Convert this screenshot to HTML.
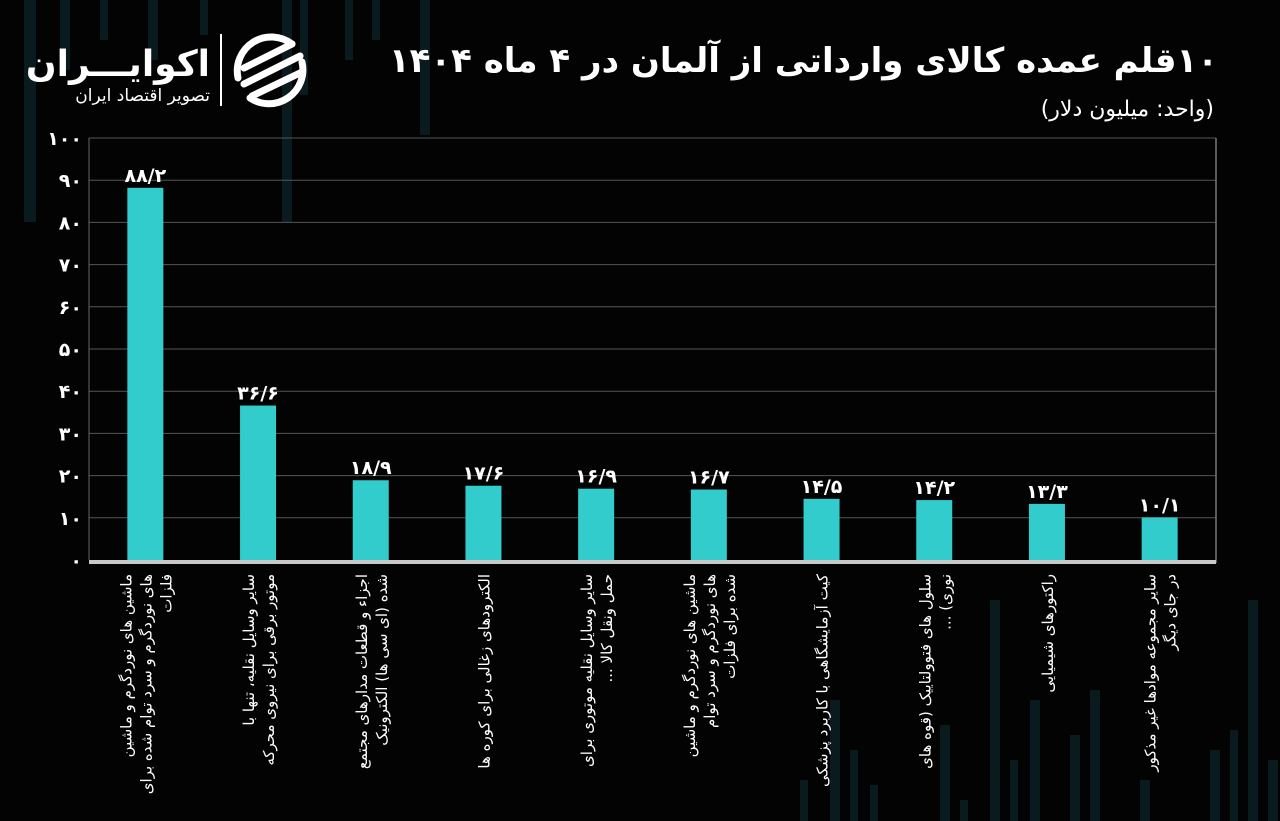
<!DOCTYPE html>
<html><head><meta charset="utf-8">
<style>
html,body{margin:0;padding:0;background:#030303;}
svg{display:block;}
</style></head>
<body>
<svg id="chart" width="1280" height="821" viewBox="0 0 1280 821" xmlns="http://www.w3.org/2000/svg" font-family="'DejaVu Sans','Liberation Sans',sans-serif">
<rect width="1280" height="821" fill="#030303"/>
<g id="deco" fill="#0c2026" opacity="0.85">
  <rect x="24" y="0" width="12" height="222"/>
  <rect x="60" y="0" width="10" height="70"/>
  <rect x="100" y="0" width="8" height="40"/>
  <rect x="148" y="0" width="10" height="60"/>
  <rect x="200" y="0" width="8" height="35"/>
  <rect x="282" y="0" width="10" height="222"/>
  <rect x="300" y="0" width="8" height="95"/>
  <rect x="345" y="0" width="8" height="60"/>
  <rect x="372" y="0" width="8" height="40"/>
  <rect x="420" y="0" width="10" height="135"/>
  <rect x="990" y="600" width="10" height="221"/>
  <rect x="1010" y="760" width="8" height="61"/>
  <rect x="1030" y="700" width="10" height="121"/>
  <rect x="1070" y="735" width="10" height="86"/>
  <rect x="1090" y="690" width="10" height="131"/>
  <rect x="1140" y="780" width="10" height="41"/>
  <rect x="1210" y="750" width="10" height="71"/>
  <rect x="1230" y="730" width="8" height="91"/>
  <rect x="1248" y="600" width="10" height="221"/>
  <rect x="1268" y="760" width="10" height="61"/>
  <rect x="800" y="780" width="8" height="41"/>
  <rect x="830" y="700" width="10" height="121"/>
  <rect x="850" y="750" width="8" height="71"/>
  <rect x="870" y="785" width="8" height="36"/>
  <rect x="940" y="725" width="10" height="96"/>
  <rect x="960" y="800" width="8" height="21"/>
</g>

<text x="1218" y="72" text-anchor="start" fill="#fff" font-size="34" font-weight="bold" direction="rtl">۱۰قلم عمده کالای وارداتی از آلمان در ۴ ماه ۱۴۰۴</text>
<text x="1214" y="116" text-anchor="start" fill="#fff" font-size="22" direction="rtl">(واحد: میلیون دلار)</text>

<g>
  <text x="210" y="76" text-anchor="start" fill="#fff" font-size="36" font-weight="bold" direction="rtl">اکوایـــران</text>
  <text x="210" y="101" text-anchor="start" fill="#fff" font-size="17" direction="rtl">تصویر اقتصاد ایران</text>
  <rect x="220" y="34" width="2" height="72" fill="#fff"/>
  <g fill="none" stroke="#fff" stroke-width="7" stroke-linecap="round">
    <path d="M292 44 A34 34 0 0 0 238 78"/>
    <path d="M250 98 A34 34 0 0 0 302 62"/>
    <path d="M244 68 L292 44"/>
    <path d="M244 84 L300 56"/>
    <path d="M252 96 L302 72"/>
  </g>
</g>

<g id="plot"></g>
</svg>
<script>
const categories = [
 ["ماشین های نوردگرم و ماشین","های نوردگرم و سرد توام شده برای","فلزات"],
 ["سایر وسایل نقلیه، تنها با","موتور برقی برای نیروی محرکه"],
 ["اجزاء و قطعات مدارهای مجتمع","شده (ای سی ها) الکترونیک"],
 ["الکترودهای زغالی برای کوره ها"],
 ["سایر وسایل نقلیه موتوری برای","حمل ونقل کالا ..."],
 ["ماشین های نوردگرم و ماشین","های نوردگرم و سرد توام","شده برای فلزات"],
 ["کیت آزمایشگاهی با کاربرد پزشکی"],
 ["سلول های فتوولتاییک (قوه های","نوری) ..."],
 ["راکتورهای شیمیایی"],
 ["سایر مجموعه موادها غیر مذکور","در جای دیگر"]
];
const values = [88.2, 36.6, 18.9, 17.6, 16.9, 16.7, 14.5, 14.2, 13.3, 10.1];
const valueLabels = ["۸۸/۲","۳۶/۶","۱۸/۹","۱۷/۶","۱۶/۹","۱۶/۷","۱۴/۵","۱۴/۲","۱۳/۳","۱۰/۱"];
const yTicks = [0,10,20,30,40,50,60,70,80,90,100];
const yTickLabels = ["۰","۱۰","۲۰","۳۰","۴۰","۵۰","۶۰","۷۰","۸۰","۹۰","۱۰۰"];

const NS = "http://www.w3.org/2000/svg";
const plot = document.getElementById('plot');
const X0 = 89, X1 = 1216, Y0 = 560, Y1 = 138, YMAX = 100;
const band = (X1 - X0) / categories.length;
const barW = 36;
const y = v => Y0 - (v / YMAX) * (Y0 - Y1);
const xc = i => X0 + band * (i + 0.5);
function mk(tag, attrs){ const e = document.createElementNS(NS, tag); for (const k in attrs) e.setAttribute(k, attrs[k]); plot.appendChild(e); return e; }

yTicks.forEach((t, i) => {
  if (t > 0) {
    const g = mk('line', {x1:X0, x2:X1, y1:y(t), y2:y(t), stroke:'#555', 'stroke-width':1});
    
    
  }
  const tl = mk('text', {x:82, y:y(t)+7, 'text-anchor':'end', fill:'#fff', 'font-size':19, 'font-weight':'bold'});
  tl.textContent = yTickLabels[i];
  
  
});
const ya = mk('line', {x1:X0, x2:X0, y1:Y1, y2:Y0, stroke:'#666', 'stroke-width':1});


const rb = mk('line', {x1:X1, x2:X1, y1:Y1, y2:Y0+3, stroke:'#777', 'stroke-width':1.5});



values.forEach((v, i) => {
  const b = mk('rect', {x:xc(i)-barW/2, y:y(v), width:barW, height:Y0-y(v), fill:'#33cccc'});
  
  
  const lb = mk('text', {x:xc(i), y:y(v)-6, 'text-anchor':'middle', fill:'#fff', 'font-size':19, 'font-weight':'bold'});
  lb.textContent = valueLabels[i];
  
  
  const lines = categories[i];
  const g = document.createElementNS(NS, 'g');
  g.setAttribute('transform', `translate(${xc(i)},574) rotate(-90)`);
  
  
  lines.forEach((ln, j) => {
    const t = document.createElementNS(NS, 'text');
    t.setAttribute('x', 0);
    t.setAttribute('y', (j - (lines.length-1)/2) * 20 + 6);
    t.setAttribute('text-anchor', 'start');
    t.setAttribute('direction', 'rtl');
    t.setAttribute('fill', '#fff');
    t.setAttribute('font-size', 15);
    t.textContent = ln;
    
    
    g.appendChild(t);
  });
  plot.appendChild(g);
});
const xa = mk('rect', {x:X0, y:Y0, width:X1-X0, height:4, fill:'#c8c8c8'});


</script>
</body></html>
